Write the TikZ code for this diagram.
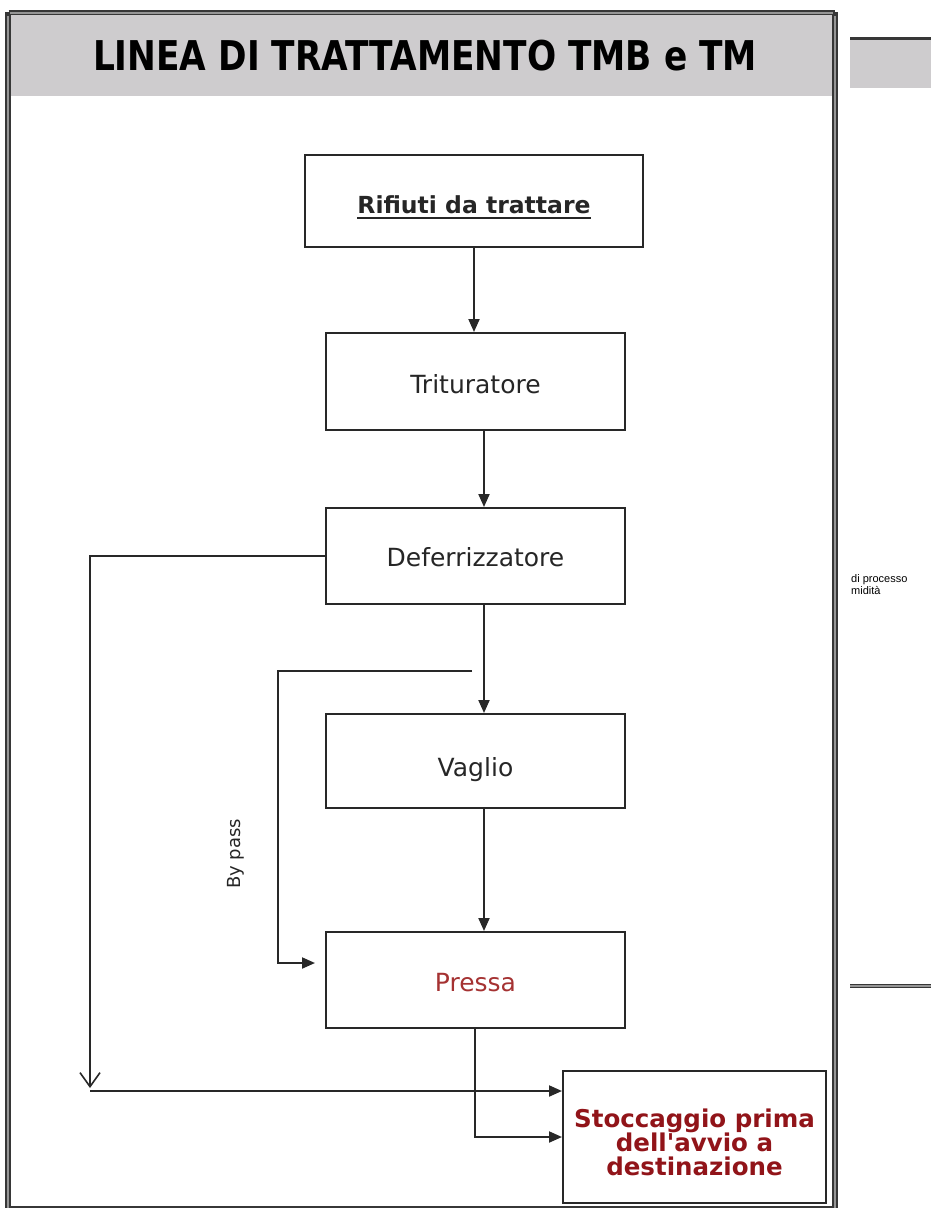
\documentclass[tikz,border=0pt]{standalone}
\usepackage{fontspec}
\usepackage{graphicx}
\setmainfont{DejaVu Sans}
\newfontfamily\smallsans{Liberation Sans}
\usetikzlibrary{arrows.meta}
\definecolor{framedark}{RGB}{55,55,55}
\definecolor{framelight}{RGB}{150,150,150}
\definecolor{headgray}{RGB}{206,204,206}
\definecolor{linecol}{RGB}{40,40,40}
\definecolor{pressred}{RGB}{165,50,50}
\definecolor{stockred}{RGB}{145,20,25}
% thick underline for the source box label
\newcommand\thickul[1]{\leavevmode\vtop{\hbox{#1}\kern4pt\hrule height 2pt}}
\tikzset{
  procbox/.style={draw=linecol, line width=2pt, fill=white, inner sep=0pt,
    minimum width=299pt, font=\fontsize{25}{29}\selectfont, text=black!85,
    text depth=0pt},
  link/.style={draw=linecol, line width=2pt, -{Triangle[length=13pt,width=11pt]}},
  openlink/.style={draw=linecol, line width=2pt, -{Straight Barb[length=14pt,width=20pt,line width=1.6pt]}},
}
\begin{document}
\begin{tikzpicture}[x=1pt, y=-1pt]
\useasboundingbox (0,0) rectangle (931,1208);
\fill[white] (0,0) rectangle (931,1208);

% main panel: grey heading band and framed border
\fill[headgray] (10,15) rectangle (833,96);
\draw[draw=framedark, line width=5.5pt] (8.5,12.5) -- (834.5,12.5);
\draw[draw=framedark, line width=1.2pt] (9,1207) -- (834,1207);
\draw[framedark, line width=6pt] (8,12) -- (8,1210);
\draw[framelight, line width=2pt] (8,16) -- (8,1210);
\draw[framedark, line width=6pt] (835,12) -- (835,1210);
\draw[framelight, line width=2pt] (835,16) -- (835,1210);
\draw[framelight, line width=2pt] (10,12.5) -- (833,12.5);

\node (title) at (425,56) {\resizebox{664pt}{\height}{\fontsize{41}{44}\selectfont\bfseries LINEA DI TRATTAMENTO TMB e TM}};

% neighbouring panel, partly visible
\fill[headgray] (850,40) rectangle (931,88);
\draw[framedark, line width=3pt] (850,38) -- (931,38);
\draw[framedark, line width=4pt] (850,986) -- (931,986);
\draw[framelight, line width=1.2pt] (850,986) -- (931,986);
\node[anchor=base west, inner sep=0pt, font=\smallsans\fontsize{11}{12}\selectfont] (np1) at (851,582) {di processo};
\node[anchor=base west, inner sep=0pt, font=\smallsans\fontsize{11}{12}\selectfont] (np2) at (851,594) {midità};

% process chain
\node[procbox, minimum width=338pt, minimum height=92pt, text height=24pt] (rif) at (474,201)
  {\fontsize{23.5}{27}\selectfont\bfseries\thickul{Rifiuti da trattare}};
\node[procbox, minimum height=97pt, text height=23pt] (trit) at (475.5,381.5) {Trituratore};
\node[procbox, minimum height=96pt, text height=21pt] (defe) at (475.5,556) {Deferrizzatore};
\node[procbox, minimum height=94pt, text height=31pt] (vagl) at (475.5,761) {Vaglio};
\node[procbox, minimum height=96pt, text height=22pt, text=pressred] (pres) at (475.5,980) {Pressa};
\node[procbox, minimum width=263pt, minimum height=132pt] (stoc) at (694.5,1137) {};
\node[align=center, text=stockred, inner sep=0pt,
  font=\fontsize{24.5}{24}\selectfont\bfseries\addfontfeatures{Ligatures=TeXOff}] (stoctext) at ([yshift=-5pt]stoc.center)
  {Stoccaggio prima\\dell'avvio a\\destinazione};

\draw[link] (rif.south) -- (rif.south |- trit.north);
\draw[link] ([xshift=8.5pt]trit.south) -- ([xshift=8.5pt]defe.north);
\draw[link] ([xshift=8.5pt]defe.south) -- ([xshift=8.5pt]vagl.north);
\draw[link] ([xshift=8.5pt]vagl.south) -- ([xshift=8.5pt]pres.north);

% by pass around the screen
\coordinate (bpA) at (472,671);
\coordinate (bpB) at (278,671);
\coordinate (bpC) at (278,963);
\draw[link, shorten >=10pt] (bpA) -- (bpB) -- (bpC) -- (pres.west |- bpC);
\node[rotate=90, font=\fontsize{18}{20}\selectfont, text=black!85] (bypass) at (236,854) {By pass};

% ferrous fraction straight to storage
\coordinate (fe) at (90,1088);
\coordinate (feh) at (90,1091);
\draw[openlink] (defe.west) -| (fe);
\draw[link] (feh) -- (stoc.west |- feh);

% pressed material to storage
\coordinate (pr) at (475,1137);
\draw[link] (pres.south -| pr) -- (pr) -- (stoc.west |- pr);
\end{tikzpicture}
\end{document}
